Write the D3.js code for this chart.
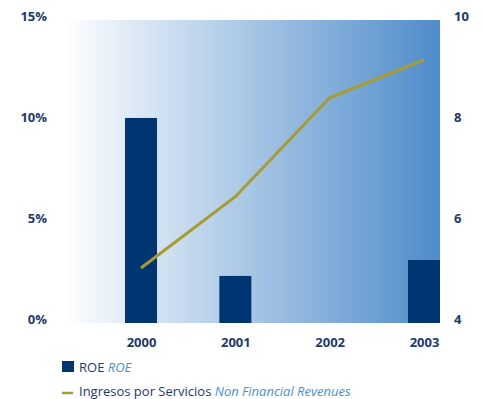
<!DOCTYPE html>
<html>
<head>
<meta charset="utf-8">
<script src="https://cdn.jsdelivr.net/npm/d3@7"></script>
<style>
  html, body { margin: 0; padding: 0; background: #fff; }
  svg { display: block; }
  text { font-family: "Open Sans", "Noto Sans", sans-serif; }
</style>
</head>
<body>
<svg id="chart" width="483" height="399"></svg>
<script>
// Years on the category axis
const years = ["2000", "2001", "2002", "2003"];
// ROE (%), bars on the left axis
const roe = [10.15, 2.33, null, 3.12];
// Non financial revenues, line on the right axis
const revenues = [5.09, 6.5, 8.46, 9.21];
// Tick labels
const leftTicks = [0, 5, 10, 15];
const rightTicks = [4, 6, 8, 10];

const navy = "#003574";
const textNavy = "#1c3a6c";
const olive = "#a89c2f";
const lightBlue = "#4b8fd2";

const svg = d3.select("#chart");
const plot = { left: 63, right: 440, top: 20, bottom: 323 };

const x = d3.scalePoint().domain(years).range([141, 424]);
const yL = d3.scaleLinear().domain([0, 15]).range([plot.bottom, plot.top]);
const yR = d3.scaleLinear().domain([4, 10]).range([plot.bottom, plot.top]);

// Background gradient
const defs = svg.append("defs");
const grad = defs.append("linearGradient").attr("id", "bg")
  .attr("x1", "0%").attr("x2", "100%").attr("y1", "0%").attr("y2", "0%");
grad.append("stop").attr("offset", "0%").attr("stop-color", "#ffffff");
grad.append("stop").attr("offset", "100%").attr("stop-color", "#4f8cca");

svg.append("rect")
  .attr("x", plot.left).attr("y", plot.top)
  .attr("width", plot.right - plot.left).attr("height", plot.bottom - plot.top)
  .attr("fill", "url(#bg)");

// Bars
const barW = 32;
svg.append("g").selectAll("rect")
  .data(years.map((y, i) => ({ year: y, v: roe[i] })).filter(d => d.v != null))
  .join("rect")
  .attr("x", d => x(d.year) - barW / 2)
  .attr("y", d => yL(d.v))
  .attr("width", barW)
  .attr("height", d => yL(0) - yL(d.v))
  .attr("fill", navy);

// Line
const line = d3.line()
  .x((d, i) => x(years[i]))
  .y(d => yR(d));
svg.append("path")
  .datum(revenues)
  .attr("d", line)
  .attr("fill", "none")
  .attr("stroke", olive)
  .attr("stroke-width", 3);

const styleTicks = sel => sel
  .attr("fill", textNavy)
  .attr("font-size", "13px")
  .attr("font-weight", "bold");

// Left axis
const leftAxis = d3.axisLeft(yL).tickValues(leftTicks).tickFormat(d => d + "%").tickSize(0).tickPadding(0);
const gl = svg.append("g").attr("transform", "translate(47,0)").call(leftAxis);
gl.select(".domain").remove();
gl.selectAll("text").attr("dy", 0).attr("x", 0).call(styleTicks);

// Right axis
const rightAxis = d3.axisRight(yR).tickValues(rightTicks).tickFormat(d3.format("d")).tickSize(0).tickPadding(0);
const gr = svg.append("g").attr("transform", "translate(454,0)").call(rightAxis);
gr.select(".domain").remove();
gr.selectAll("text").attr("dy", 0).attr("x", 0).call(styleTicks);

// Bottom axis
const bottomAxis = d3.axisBottom(x).tickSize(0).tickPadding(0);
const gb = svg.append("g").attr("transform", "translate(0,346.5)").call(bottomAxis);
gb.select(".domain").remove();
gb.selectAll("text").attr("dy", 0).attr("y", 0).call(styleTicks);

// Legend
const lg = svg.append("g");
lg.append("rect").attr("x", 62).attr("y", 361).attr("width", 12).attr("height", 11).attr("fill", navy);
const t1 = lg.append("text").attr("x", 79).attr("y", 372).attr("font-size", "13px").attr("fill", textNavy);
t1.append("tspan").text("ROE ");
t1.append("tspan").attr("font-style", "italic").attr("fill", lightBlue).text("ROE");

lg.append("line").attr("x1", 62).attr("x2", 73).attr("y1", 393).attr("y2", 393)
  .attr("stroke", olive).attr("stroke-width", 2.5);
const t2 = lg.append("text").attr("x", 79).attr("y", 396).attr("font-size", "13px").attr("fill", textNavy);
t2.append("tspan").text("Ingresos por Servicios ");
t2.append("tspan").attr("font-style", "italic").attr("fill", lightBlue).text("Non Financial Revenues");
</script>
</body>
</html>
